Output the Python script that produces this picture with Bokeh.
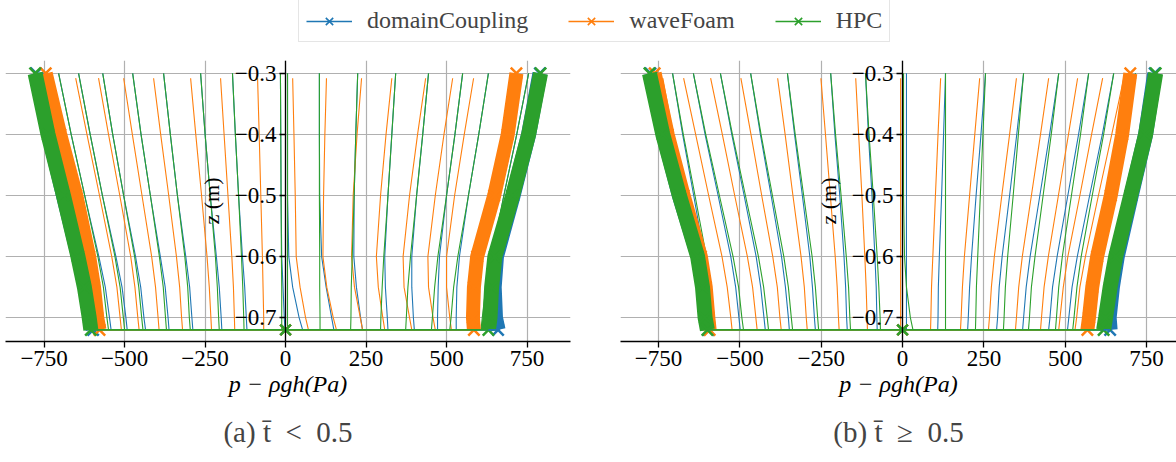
from bokeh.plotting import figure
from bokeh.models import Range1d, Legend, LegendItem, CustomJSTickFormatter, FixedTicker
from bokeh.layouts import column, row
from bokeh.embed import file_html
from bokeh.resources import INLINE

SERIES = ["domainCoupling", "waveFoam", "HPC"]
COLORS = ["#1f77b4", "#ff7f0e", "#2ca02c"]
Z = [-0.30, -0.40, -0.50, -0.60, -0.65, -0.70, -0.72]
Z_WF = [-0.308, -0.40, -0.50, -0.60, -0.65, -0.70, -0.72]
Z_BOTTOM = -0.72
X_TICKS = [-750, -500, -250, 0, 250, 500, 750]
Z_TICKS = [-0.7, -0.6, -0.5, -0.4, -0.3]
CAPTIONS = ["(a) t\u0304\u2002<\u20020.5", "(b) t\u0304\u2002\u2265\u20020.5"]
X_LABEL = "p \u2212 \u03c1gh(Pa)"
Z_LABEL = "z (m)"

# ---------------- panel (a): t < 0.5 ----------------
A_DC = [
    [-705, -666, -624, -580, -560, -547, -542],
    [-643, -607, -569, -527, -508, -496, -492],
    [-568, -537, -503, -466, -450, -440, -435],
    [-475, -449, -420, -389, -374, -365, -362],
    [-379, -358, -336, -310, -298, -291, -288],
    [-264, -250, -234, -215, -206, -200, -198],
    [-165, -156, -146, -134, -127, -122, -120],
    [-16, -15, -14, -12, -8, -4, -2],
    [6, 6, 6, 10, 22, 42, 53],
    [105, 105, 106, 112, 126, 143, 150],
    [224, 218, 213, 212, 220, 233, 239],
    [342, 330, 318, 308, 310, 316, 318],
    [444, 426, 407, 392, 392, 397, 400],
    [550, 526, 500, 478, 474, 472, 472],
    [630, 600, 568, 540, 532, 530, 530],
    [755, 718, 678, 642, 630, 625, 625],
]
A_DC_MIN = [-775, -735, -690, -643, -622, -604, -598]
A_DC_MAX = [790, 755, 707, 655, 648, 652, 660]

A_WF = [
    [-652, -617, -578, -540, -524, -514, -510],
    [-581, -550, -515, -481, -468, -459, -455],
    [-503, -476, -446, -416, -404, -396, -393],
    [-410, -388, -363, -339, -329, -323, -320],
    [-295, -279, -261, -244, -237, -232, -230],
    [-202, -191, -179, -167, -162, -159, -158],
    [-87, -82, -77, -72, -70, -68, -68],
    [22, 26, 30, 33, 45, 62, 71],
    [127, 122, 118, 116, 128, 148, 158],
    [236, 222, 210, 205, 214, 232, 239],
    [330, 312, 295, 282, 288, 302, 308],
    [435, 410, 385, 365, 368, 385, 392],
    [519, 492, 465, 442, 444, 458, 465],
    [584, 555, 525, 500, 500, 510, 515],
]
A_WF_MIN = [-745, -700, -650, -610, -595, -585, -578]
A_WF_MAX = [717, 690, 648, 595, 585, 582, 585]

A_HPC = [
    [-705, -666, -624, -583, -566, -555, -550],
    [-643, -607, -569, -530, -514, -504, -500],
    [-568, -537, -503, -469, -456, -447, -443],
    [-475, -449, -420, -392, -380, -373, -370],
    [-379, -358, -336, -313, -304, -299, -296],
    [-264, -250, -234, -218, -212, -208, -206],
    [-165, -156, -146, -137, -133, -130, -129],
    [-16, -15, -14, -13, -12, -12, -12],
    [6, 6, 6, 6, 6, 6, 6],
    [105, 105, 105, 106, 106, 107, 107],
    [224, 218, 213, 207, 204, 203, 202],
    [342, 330, 318, 305, 300, 296, 295],
    [444, 426, 407, 388, 380, 375, 373],
    [550, 526, 500, 473, 463, 456, 453],
    [630, 600, 568, 535, 522, 514, 510],
    [755, 718, 678, 638, 622, 611, 607],
]
A_HPC_MIN = [-778, -738, -690, -645, -625, -610, -605]
A_HPC_MAX = [792, 755, 705, 650, 640, 635, 630]

# ---------------- panel (b): t >= 0.5 ----------------
B_DC = [
    [-707, -676, -642, -609, -596, -588, -585],
    [-643, -607, -567, -528, -513, -503, -499],
    [-560, -525, -487, -450, -436, -426, -422],
    [-467, -437, -404, -372, -360, -351, -348],
    [-354, -332, -308, -285, -277, -271, -268],
    [-221, -208, -193, -180, -175, -172, -170],
    [-114, -105, -94, -85, -81, -79, -78],
    [12, 12, 12, 12, 12, 12, 12],
    [132, 126, 120, 113, 110, 109, 108],
    [255, 241, 226, 212, 206, 202, 200],
    [372, 351, 329, 306, 297, 292, 289],
    [480, 452, 422, 392, 380, 372, 369],
    [572, 541, 508, 475, 461, 453, 449],
    [649, 614, 575, 537, 521, 511, 507],
    [716, 677, 635, 593, 576, 565, 560],
]
B_DC_MIN = [-775, -735, -686, -628, -612, -602, -596]
B_DC_MAX = [775, 747, 703, 660, 645, 635, 638]

B_WF = [
    [-737, -705, -671, -637, -623, -614, -610],
    [-673, -636, -596, -555, -539, -528, -524],
    [-590, -554, -516, -477, -461, -451, -447],
    [-497, -466, -433, -399, -385, -377, -373],
    [-384, -361, -337, -312, -302, -296, -293],
    [-251, -237, -222, -207, -201, -197, -195],
    [-144, -135, -125, -116, -112, -109, -108],
    [-6, -6, -6, -6, -6, -6, -6],
    [117, 109, 101, 93, 89, 87, 86],
    [237, 222, 206, 190, 184, 180, 178],
    [350, 329, 305, 282, 273, 267, 264],
    [449, 424, 396, 368, 357, 350, 347],
    [538, 510, 479, 448, 435, 427, 424],
    [615, 581, 545, 508, 494, 484, 480],
    [680, 643, 602, 562, 545, 535, 530],
]
B_WF_MIN = [-762, -722, -673, -620, -605, -597, -593]
B_WF_MAX = [700, 675, 640, 598, 583, 573, 568]

B_HPC = [
    [-707, -674, -638, -603, -588, -579, -575],
    [-643, -605, -563, -521, -504, -494, -489],
    [-560, -523, -483, -443, -427, -416, -412],
    [-467, -435, -400, -365, -351, -342, -338],
    [-354, -330, -304, -278, -268, -261, -258],
    [-221, -206, -189, -173, -166, -162, -160],
    [-114, -103, -90, -78, -73, -69, -68],
    [3, 3, 3, 6, 12, 24, 32],
    [132, 132, 132, 132, 132, 132, 132],
    [255, 247, 239, 231, 227, 225, 224],
    [372, 356, 340, 323, 316, 312, 310],
    [480, 457, 432, 407, 396, 390, 387],
    [572, 547, 519, 491, 480, 473, 470],
    [649, 618, 583, 549, 536, 527, 523],
    [716, 682, 644, 607, 592, 582, 578],
]
B_HPC_MIN = [-778, -737, -686, -630, -615, -607, -600]
B_HPC_MAX = [778, 747, 701, 655, 638, 624, 618]

SERIF = "Liberation Serif"
X_FMT = CustomJSTickFormatter(code="return (tick < 0 ? '\\u2212' : '') + Math.abs(tick).toFixed(0);")
Z_FMT = CustomJSTickFormatter(code="return (tick < 0 ? '\\u2212' : '') + Math.abs(tick).toFixed(1);")

LEG_H = 44


def make_panel(curves, mins, maxs, xr, caption, bl, br, fw):
    p = figure(frame_width=fw, frame_height=281, x_range=Range1d(*xr), y_range=Range1d(-0.739, -0.279),
               output_backend="svg", toolbar_location=None, title_location="below",
               min_border_left=bl, min_border_right=br, min_border_top=16, min_border_bottom=0)
    p.outline_line_color = None
    p.title.text = caption
    p.title.align = "center"
    p.title.text_font = SERIF
    p.title.text_font_size = "29px"
    p.title.text_font_style = "normal"
    p.title.standoff = 29

    for ax, ticks, fmt in ((p.xaxis, X_TICKS, X_FMT), (p.yaxis, Z_TICKS, Z_FMT)):
        ax.ticker = FixedTicker(ticks=ticks)
        ax.formatter = fmt
        ax.major_label_text_font = SERIF
        ax.major_label_text_font_size = "23px"
        ax.major_label_text_color = "black"
        ax.axis_label_text_font = SERIF
        ax.axis_label_text_font_size = "23px"
        ax.axis_label_text_font_style = "normal"
        ax.axis_label_text_color = "black"
        ax.axis_line_width = 1.3
        ax.major_tick_line_width = 1.3
        ax.major_tick_out = 6
        ax.major_tick_in = 0
        ax.minor_tick_out = 0
        ax.minor_tick_in = 0
        ax.major_label_standoff = 3
    p.yaxis.fixed_location = 0
    p.xaxis.axis_label = X_LABEL
    p.xaxis.axis_label_text_font_size = "24px"
    p.xaxis.axis_label_text_font_style = "italic"
    p.xaxis.axis_label_standoff = 2
    p.yaxis.axis_label = Z_LABEL
    p.yaxis.axis_label_text_font_size = "22px"
    p.yaxis.axis_label_standoff = 8
    p.grid.grid_line_color = "#b0b0b0"
    p.grid.grid_line_width = 1.2

    # interior profiles
    for name, c, color in zip(SERIES, curves, COLORS):
        zs = Z_WF if name == "waveFoam" else Z
        p.multi_line(xs=c, ys=[zs] * len(c), line_color=color, line_width=1.1)
    # extreme profiles (dense markers)
    widths = [15, 14, 15]
    for mn, mx, color, lw in zip(mins, maxs, COLORS, widths):
        for env in (mn, mx):
            p.line(x=env, y=Z, line_color=color, line_width=lw)
            p.scatter(x=env, y=Z, marker="x", size=16, line_color=color, line_width=2.5)
    # bottom connection through p=0
    for mn, mx, color in zip(mins, maxs, COLORS):
        xs = [mn[-1], 0, mx[-1]]
        p.line(x=xs, y=[Z_BOTTOM] * 3, line_color=color, line_width=1.6)
        p.scatter(x=[0], y=[Z_BOTTOM], marker="x", size=15, line_color=color, line_width=2.5)
    return p


pa = make_panel([A_DC, A_WF, A_HPC], [A_DC_MIN, A_WF_MIN, A_HPC_MIN], [A_DC_MAX, A_WF_MAX, A_HPC_MAX],
                (-870, 885), CAPTIONS[0], 5, 25, 565)
pb = make_panel([B_DC, B_WF, B_HPC], [B_DC_MIN, B_WF_MIN, B_HPC_MIN], [B_DC_MAX, B_WF_MAX, B_HPC_MAX],
                (-867, 842), CAPTIONS[1], 25, 0, 556)

# legend strip: proxies use real series data but lie outside this strip's ranges
lf = figure(width=1176, height=LEG_H, output_backend="svg", toolbar_location=None,
            x_range=Range1d(0, 1), y_range=Range1d(0, 1),
            min_border_left=0, min_border_right=0, min_border_top=0, min_border_bottom=0)
lf.axis.visible = False
lf.grid.visible = False
lf.outline_line_color = None
items = []
for name, color, env in zip(SERIES, COLORS, [A_DC_MAX, A_WF_MAX, A_HPC_MAX]):
    rl = lf.line(x=env, y=Z, line_color=color, line_width=1.6)
    rm = lf.scatter(x=env, y=Z, marker="x", size=15, line_color=color, line_width=1.6)
    items.append(LegendItem(label=name, renderers=[rl, rm]))
leg = Legend(items=items, orientation="horizontal", location=(298, 2),
             label_text_font=SERIF, label_text_font_size="24px",
             glyph_width=46, glyph_height=26, label_standoff=15, spacing=40,
             padding=7, margin=0, border_line_color="#cccccc", border_line_width=1)
lf.add_layout(leg, "center")

layout = column(lf, row(pa, pb, spacing=0), spacing=0)
open("out.html", "w", encoding="utf-8").write(file_html(layout, INLINE))
